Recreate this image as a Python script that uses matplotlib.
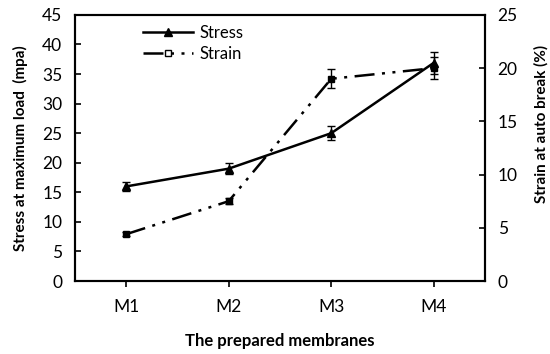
import matplotlib.pyplot as plt
from matplotlib.lines import Line2D

plt.rcParams['font.family'] = ['Lato', 'DejaVu Sans']

membranes = ['M1', 'M2', 'M3', 'M4']
stress = [16.0, 19.0, 25.0, 36.9]
stress_err = [0.8, 0.9, 1.2, 1.9]
strain = [4.4, 7.5, 19.0, 20.0]
strain_err = [0.2, 0.3, 0.9, 1.0]

fig = plt.figure(figsize=(5.5, 3.54), dpi=100)
ax = fig.add_axes([0.136, 0.206, 0.746, 0.752])
ax2 = ax.twinx()

x = range(len(membranes))
ax.errorbar(x, stress, yerr=stress_err, color='black', lw=1.8, marker='^', ms=6,
            capsize=3, elinewidth=1, capthick=1)
ax2.errorbar(x, strain, yerr=strain_err, color='black', lw=1.8, marker='s', ms=5,
             capsize=3, elinewidth=1, capthick=1, dashes=(8, 3, 1.2, 3, 1.2, 3))

ax.set_xlim(-0.5, 3.5)
ax.set_ylim(0, 45)
ax.set_yticks(range(0, 46, 5))
ax2.set_ylim(0, 25)
ax2.set_yticks(range(0, 26, 5))
ax.set_xticks(list(x))
ax.set_xticklabels(membranes)

for a in (ax, ax2):
    for s in a.spines.values():
        s.set_linewidth(1.5)
    a.tick_params(labelsize=12.5, width=1.2, length=4)
ax.tick_params(axis='y', direction='in', pad=9)
ax2.tick_params(axis='y', direction='in', pad=9)
ax.tick_params(axis='x', direction='out', pad=9)

ax.set_ylabel('Stress at maximum load  (mpa)', fontsize=11, fontweight='bold', labelpad=10)
ax2.set_ylabel('Strain at auto break (%)', fontsize=11, fontweight='bold', labelpad=12)
ax2.yaxis.label.set_y(0.59)
ax.set_xlabel('The prepared membranes', fontsize=12, fontweight='bold', labelpad=13)

handles = [
    Line2D([], [], color='black', lw=1.8, marker='^', ms=6),
    Line2D([], [], color='black', lw=1.8, marker='s', ms=5, mfc='white',
           dashes=(8, 3, 1.2, 3, 1.2, 3)),
]
ax.legend(handles, ['Stress', 'Strain'], loc='upper left', bbox_to_anchor=(0.13, 1.02),
          frameon=False, fontsize=12, handlelength=3.0, handletextpad=0.4,
          labelspacing=0.3)

fig.savefig('out.png', dpi=100)
